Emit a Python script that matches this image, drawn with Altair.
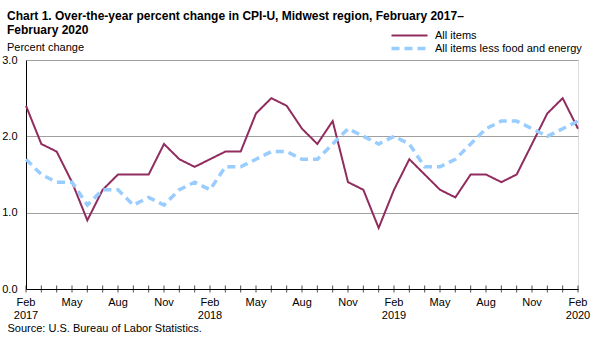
import altair as alt
import pandas as pd

months = ["Feb 2017", "Mar 2017", "Apr 2017", "May 2017", "Jun 2017", "Jul 2017", "Aug 2017",
          "Sep 2017", "Oct 2017", "Nov 2017", "Dec 2017", "Jan 2018", "Feb 2018", "Mar 2018",
          "Apr 2018", "May 2018", "Jun 2018", "Jul 2018", "Aug 2018", "Sep 2018", "Oct 2018",
          "Nov 2018", "Dec 2018", "Jan 2019", "Feb 2019", "Mar 2019", "Apr 2019", "May 2019",
          "Jun 2019", "Jul 2019", "Aug 2019", "Sep 2019", "Oct 2019", "Nov 2019", "Dec 2019",
          "Jan 2020", "Feb 2020"]
all_items = [2.4, 1.9, 1.8, 1.4, 0.9, 1.3, 1.5, 1.5, 1.5, 1.9, 1.7, 1.6,
             1.7, 1.8, 1.8, 2.3, 2.5, 2.4, 2.1, 1.9, 2.2, 1.4, 1.3, 0.8,
             1.3, 1.7, 1.5, 1.3, 1.2, 1.5, 1.5, 1.4, 1.5, 1.9, 2.3, 2.5, 2.1]
core = [1.7, 1.5, 1.4, 1.4, 1.1, 1.3, 1.3, 1.1, 1.2, 1.1, 1.3, 1.4,
        1.3, 1.6, 1.6, 1.7, 1.8, 1.8, 1.7, 1.7, 1.9, 2.1, 2.0, 1.9,
        2.0, 1.9, 1.6, 1.6, 1.7, 1.9, 2.1, 2.2, 2.2, 2.1, 2.0, 2.1, 2.2]
series_names = ["All items", "All items less food and energy"]
labeled_months = ["Feb", "May", "Aug", "Nov"]
y_ticks = [0, 1, 2, 3]

rows = []
for i, m in enumerate(months):
    rows.append({"idx": i, "month": m, "series": series_names[0], "value": all_items[i]})
    rows.append({"idx": i, "month": m, "series": series_names[1], "value": core[i]})
df = pd.DataFrame(rows)

lab_rows = []
for i, m in enumerate(months):
    mon, yr = m.split(" ")
    lab_rows.append({"idx": i, "mon": mon if mon in labeled_months else "",
                     "yr": yr if mon == "Feb" else "", "zero": 0})
lab_df = pd.DataFrame(lab_rows)

FONT = "Liberation Sans"

x_enc = alt.X("idx:Q",
              scale=alt.Scale(domain=[0, len(months) - 1], nice=False, zero=False),
              axis=alt.Axis(values=list(range(len(months))), labels=False,
                            ticks=False, grid=False, domainColor="black",
                            title="Source: U.S. Bureau of Labor Statistics.",
                            titleX=-19, titleY=42, titleAlign="left",
                            titleBaseline="alphabetic", titleFontWeight="normal",
                            titleFontSize=11, titleFont=FONT, titleColor="black"))
y_enc = alt.Y("value:Q",
              scale=alt.Scale(domain=[0, 3], nice=False),
              axis=alt.Axis(values=y_ticks, format=".1f", ticks=False,
                            domainColor="black", gridColor="#a0a0a0",
                            labelFontSize=11, labelColor="black", labelFont=FONT,
                            labelPadding=9, title=None))

leg = alt.Legend(title=None, orient="none", legendX=377, legendY=-30,
                 symbolType="M-4,0H4", symbolSize=81,
                 labelFontSize=11, labelFont=FONT, labelColor="black",
                 rowPadding=0, labelOffset=19)

lines = alt.Chart(df).mark_line().encode(
    x=x_enc,
    y=y_enc,
    color=alt.Color("series:N",
                    scale=alt.Scale(domain=series_names, range=["#902C5E", "#99CCFF"]),
                    legend=leg),
    strokeDash=alt.StrokeDash("series:N",
                              scale=alt.Scale(domain=series_names, range=[[1, 0], [8, 5]]),
                              legend=leg),
    strokeWidth=alt.StrokeWidth("series:N",
                                scale=alt.Scale(domain=series_names, range=[2, 3.5]),
                                legend=leg),
    order="idx:Q",
)

tick_marks = alt.Chart(lab_df).mark_tick(orient="vertical", size=7, thickness=1, color="black").encode(
    x=alt.X("idx:Q"),
    y=alt.Y("zero:Q"),
)

month_text = alt.Chart(lab_df).mark_text(baseline="top", align="center", dy=8,
                                         font=FONT, fontSize=11, color="black").encode(
    x=alt.X("idx:Q"),
    y=alt.Y("zero:Q"),
    text="mon:N",
)
year_text = alt.Chart(lab_df).mark_text(baseline="top", align="center", dy=21,
                                        font=FONT, fontSize=11, color="black").encode(
    x=alt.X("idx:Q"),
    y=alt.Y("zero:Q"),
    text="yr:N",
)

chart = alt.layer(lines, tick_marks, month_text, year_text).properties(
    width=552,
    height=229,
    padding={"left": 26, "top": 60, "right": 21, "bottom": 52},
    autosize=alt.AutoSizeParams(type="none"),
    title=alt.TitleParams(
        text=["Chart 1. Over-the-year percent change in CPI-U, Midwest region, February 2017\u2013",
              "February 2020"],
        subtitle="Percent change",
        anchor="start", frame="group", dx=-19, dy=32, offset=8,
        font=FONT, fontSize=12, fontWeight="bold", lineHeight=14, color="black",
        subtitleFont=FONT, subtitleFontSize=11, subtitleColor="black", subtitlePadding=5,
    ),
).configure_view(stroke="#a0a0a0", strokeWidth=1).configure(background="white")

chart.save("out.html", embed_options={"renderer": "svg", "actions": False})
